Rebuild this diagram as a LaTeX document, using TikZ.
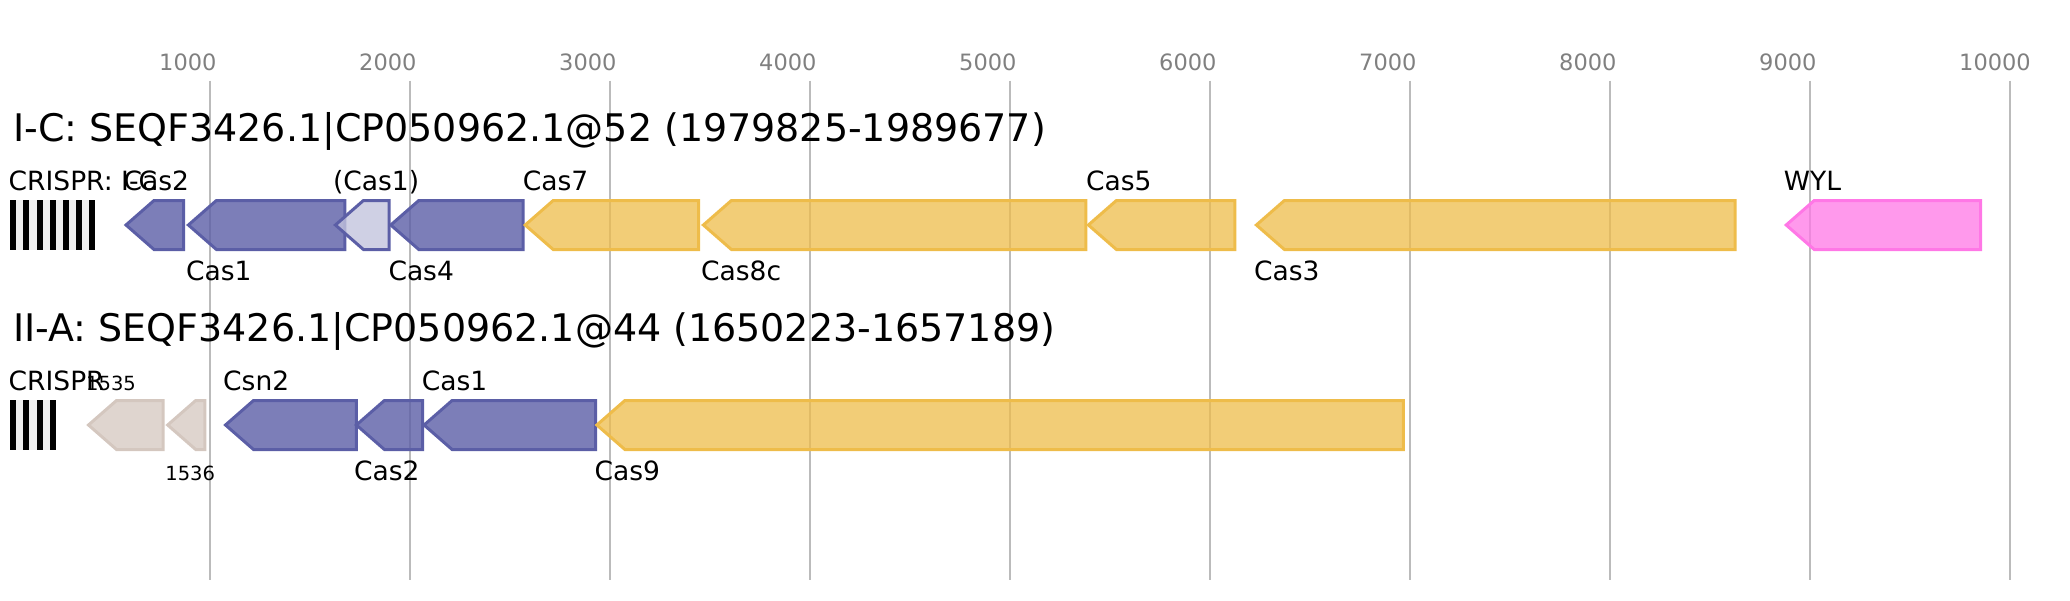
\documentclass[tikz,border=0pt]{standalone}
\usepackage{fontspec}
\setmainfont{DejaVu Sans}
\usepackage{xcolor}
\definecolor{casblue}{HTML}{5B5EA6}
\definecolor{caslight}{HTML}{C3C4DD}
\definecolor{casgold}{HTML}{EEBC4A}
\definecolor{caspink}{HTML}{FF77E6}
\definecolor{casgrey}{HTML}{D4C7BF}
\definecolor{gridgrey}{HTML}{BBBBBB}
\definecolor{ticktext}{HTML}{808080}
\definecolor{spacer}{HTML}{EEEEEE}

\begin{document}
\begin{tikzpicture}[x=1pt, y=-1pt,
  genelab/.style={inner sep=0, anchor=base west, font=\fontsize{26.5}{30}\selectfont},
  smalllab/.style={inner sep=0, anchor=base west, font=\fontsize{19.5}{22}\selectfont},
  titlelab/.style={inner sep=0, anchor=base west, font=\fontsize{38}{44}\selectfont},
  bluegene/.style={draw=casblue, fill=casblue, fill opacity=.8, line width=3pt},
  lightgene/.style={draw=casblue, fill=caslight, fill opacity=.8, line width=3pt},
  goldgene/.style={draw=casgold, fill=casgold, fill opacity=.75, line width=3pt},
  pinkgene/.style={draw=caspink, fill=caspink, fill opacity=.75, line width=3pt},
  greygene/.style={draw=casgrey, fill=casgrey, fill opacity=.75, line width=3pt}]
\useasboundingbox (0,0) rectangle (2070,600);
\foreach \k in {1,...,10} {
  \draw[gridgrey, line width=2pt] ({10+200*\k},80.5) --++(0,499.5);
  \node[inner sep=0, anchor=base west, text=ticktext, font=\fontsize{22.5}{26}\selectfont] (tick\k) at ({10+200*\k-51},70.8) {\k000};
}
\node[titlelab] (title1) at (13,141.6) {I-C: SEQF3426.1|CP050962.1@52 (1979825-1989677)};
\node[titlelab] (title2) at (13,341.6) {II-A: SEQF3426.1|CP050962.1@44 (1650223-1657189)};
\fill[spacer] (10.3,200.2) rectangle (95.3,249.5);
\foreach \n in {0,...,6} \fill[black] ({10.3+13.15*\n},200.2) rectangle ++(6,49.3);
\fill[spacer] (10.3,400.2) rectangle (56.4,449.5);
\foreach \n in {0,...,3} \fill[black] ({10.3+13.15*\n},400.2) rectangle ++(6,49.3);
\node[genelab] (crispr1) at (8.5,190) {CRISPR: I-C};
\node[genelab] (crispr2) at (8.5,390) {CRISPR};
\foreach \xl/\xr/\yc/\sty/\txt/\ly/\lab [count=\i] in {
  126/183.7/225/bluegene/Cas2/190/genelab,
  188.4/344.8/225/bluegene/Cas1/280/genelab,
  335.4/389.2/225/lightgene/{(Cas1)}/190/genelab,
  390.8/523.2/225/bluegene/Cas4/280/genelab,
  525.2/698.5/225/goldgene/Cas7/190/genelab,
  703.4/1085.9/225/goldgene/Cas8c/280/genelab,
  1088.4/1234.9/225/goldgene/Cas5/190/genelab,
  1256.4/1735.2/225/goldgene/Cas3/280/genelab,
  1786.2/1980.5/225/pinkgene/WYL/190/genelab,
  88.5/163.1/425/greygene/1535/390/smalllab,
  167.7/204.8/425/greygene/1536/480/smalllab,
  225.5/356.3/425/bluegene/Csn2/390/genelab,
  356.4/422.5/425/bluegene/Cas2/480/genelab,
  424.1/595.5/425/bluegene/Cas1/390/genelab,
  596.9/1403.3/425/goldgene/Cas9/480/genelab} {
  \draw[\sty] (\xl,\yc) -- (\xl+28,\yc-24.5) -- (\xr,\yc-24.5) -- (\xr,\yc+24.5) -- (\xl+28,\yc+24.5) -- cycle;
  \node[\lab] (gene\i) at (\xl-2.5,\ly) {\txt};
}
\end{tikzpicture}
\end{document}
